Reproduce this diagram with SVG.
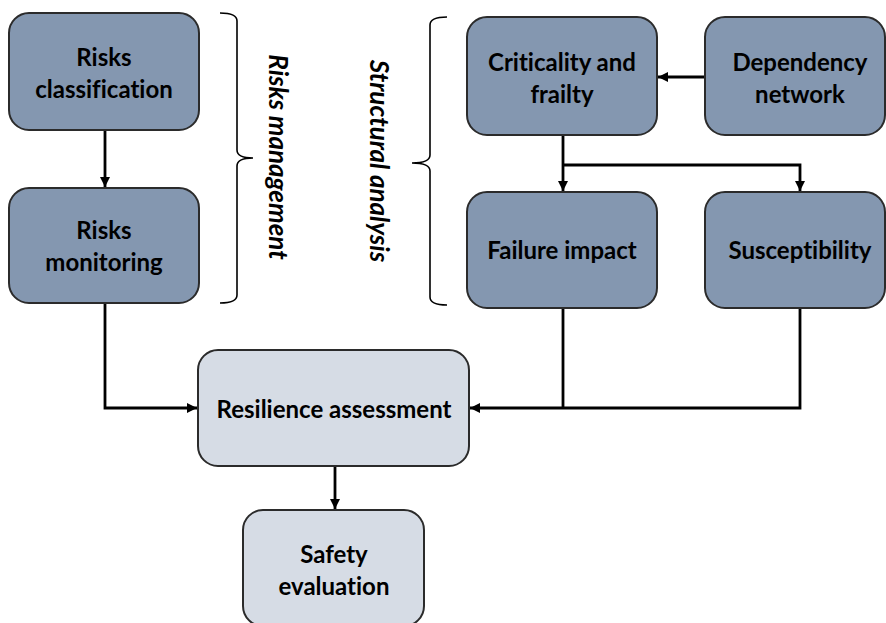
<svg xmlns="http://www.w3.org/2000/svg" width="886" height="623" viewBox="0 0 886 623">
<defs>
<marker id="ah" viewBox="0 0 10 10" refX="10" refY="5" markerWidth="10" markerHeight="10" markerUnits="userSpaceOnUse" orient="auto">
<path d="M0,0 L10,5 L0,10 Z" fill="#000"/>
</marker>
<style>
.dark{fill:#8497b0;stroke:#2b2b2b;stroke-width:2}
.light{fill:#d6dce5;stroke:#2b2b2b;stroke-width:2}
.t{font-family:Lato,"Liberation Sans",sans-serif;font-weight:bold;font-size:24px;fill:#000;text-anchor:middle;font-variant-ligatures:none}
.ti{font-family:Lato,"Liberation Sans",sans-serif;font-weight:bold;font-style:italic;font-size:26px;fill:#000;text-anchor:middle;font-variant-ligatures:none}
.c{fill:none;stroke:#000;stroke-width:2.8}
.br{fill:none;stroke:#000;stroke-width:1.6}
</style>
</defs>
<rect width="886" height="623" fill="#fff"/>
<g id="connectors">
<path class="c" d="M105,130 V187" marker-end="url(#ah)"/>
<path class="c" d="M705,77 H658" marker-end="url(#ah)"/>
<path class="c" d="M563,135 V191" marker-end="url(#ah)"/>
<path class="c" d="M563,165 H800 V191" marker-end="url(#ah)"/>
<path class="c" d="M105,303 V408 H197" marker-end="url(#ah)"/>
<path class="c" d="M563,308 V408"/>
<path class="c" d="M800,308 V408 H470" marker-end="url(#ah)"/>
<path class="c" d="M335,466 V509" marker-end="url(#ah)"/>
</g>
<g id="risks-classification">
<rect class="dark" x="9" y="13" width="190" height="117" rx="20"/>
<text class="t" x="104" y="66">Risks</text>
<text class="t" x="104" y="98">classification</text>
</g>
<g id="risks-monitoring">
<rect class="dark" x="9" y="188" width="190" height="115" rx="20"/>
<text class="t" x="104" y="239">Risks</text>
<text class="t" x="104" y="271">monitoring</text>
</g>
<g id="risks-management">
<path class="br" d="M220,13 Q237,13 237,21 L237,150 Q237,158 253,158 Q237,158 237,166 L237,295 Q237,303 220,303"/>
<text class="ti" transform="translate(269,157) rotate(90)">Risks management</text>
</g>
<g id="structural-analysis">
<path class="br" d="M447,17 Q430,17 430,25 L430,155 Q430,163 412,163 Q430,163 430,171 L430,297 Q430,305 447,305"/>
<text class="ti" transform="translate(370,161) rotate(90)">Structural analysis</text>
</g>
<g id="criticality">
<rect class="dark" x="467" y="17" width="190" height="118" rx="20"/>
<text class="t" x="562" y="71">Criticality and</text>
<text class="t" x="562" y="103">frailty</text>
</g>
<g id="dependency">
<rect class="dark" x="705" y="17" width="180" height="118" rx="20"/>
<text class="t" x="800" y="71">Dependency</text>
<text class="t" x="800" y="103">network</text>
</g>
<g id="failure-impact">
<rect class="dark" x="467" y="192" width="190" height="116" rx="20"/>
<text class="t" x="562" y="259">Failure impact</text>
</g>
<g id="susceptibility">
<rect class="dark" x="705" y="192" width="180" height="116" rx="20"/>
<text class="t" x="800" y="259">Susceptibility</text>
</g>
<g id="resilience-assessment">
<rect class="light" x="198" y="350" width="271" height="116" rx="20"/>
<text class="t" x="334" y="418">Resilience assessment</text>
</g>
<g id="safety-evaluation">
<rect class="light" x="243" y="510" width="181" height="116" rx="20"/>
<text class="t" x="334" y="563">Safety</text>
<text class="t" x="334" y="595">evaluation</text>
</g>
</svg>
